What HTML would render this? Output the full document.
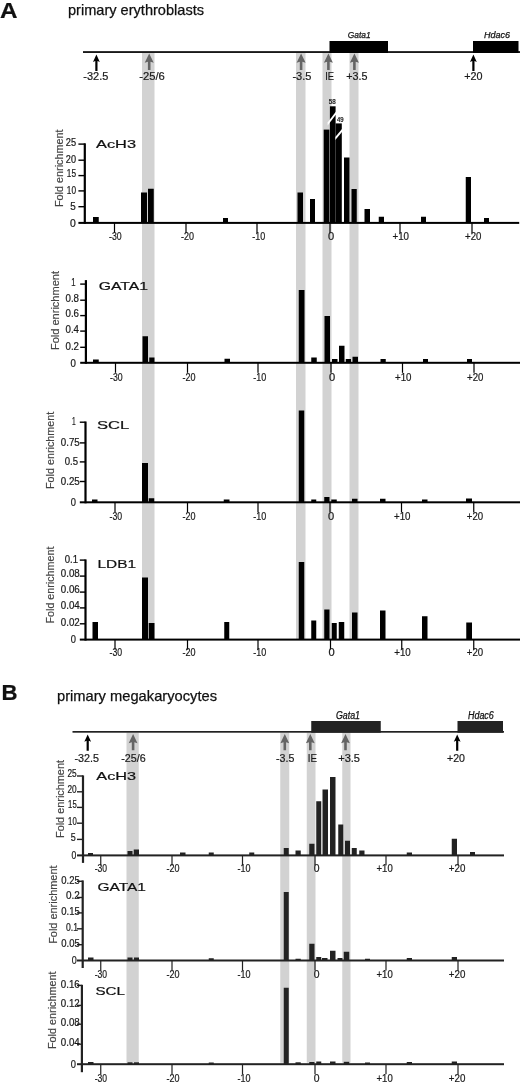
<!DOCTYPE html>
<html><head><meta charset="utf-8"><title>Figure</title>
<style>
html,body{margin:0;padding:0;background:#fff}
svg{display:block;filter:blur(0.35px)}
text{font-family:"Liberation Sans",Arial,sans-serif}
</style></head><body>
<svg width="520" height="1082" viewBox="0 0 520 1082">
<rect x="0" y="0" width="520" height="1082" fill="#fff"/>
<rect x="142.00" y="53.00" width="12.50" height="587.00" fill="#d2d2d2"/>
<rect x="296.00" y="53.00" width="9.50" height="587.00" fill="#d2d2d2"/>
<rect x="322.50" y="53.00" width="9.00" height="587.00" fill="#d2d2d2"/>
<rect x="349.50" y="53.00" width="9.00" height="587.00" fill="#d2d2d2"/>
<text x="0.00" y="18.00" font-size="22" fill="#111" textLength="17.50" lengthAdjust="spacingAndGlyphs" font-weight="bold" stroke="#111" stroke-width="0.22">A</text>
<text x="68.00" y="15.30" font-size="14.5" fill="#111" textLength="136.00" lengthAdjust="spacingAndGlyphs" stroke="#111" stroke-width="0.25">primary erythroblasts</text>
<rect x="83.00" y="51.20" width="437.00" height="1.70" fill="#000"/>
<rect x="329.50" y="41.00" width="58.50" height="12.00" fill="#000"/>
<rect x="473.00" y="41.00" width="45.50" height="12.00" fill="#000"/>
<text x="347.80" y="38.30" font-size="9.2" fill="#111" textLength="22.90" lengthAdjust="spacingAndGlyphs" font-style="italic" stroke="#111" stroke-width="0.25">Gata1</text>
<text x="484.00" y="38.30" font-size="9.2" fill="#111" textLength="26.00" lengthAdjust="spacingAndGlyphs" font-style="italic" stroke="#111" stroke-width="0.25">Hdac6</text>
<path d="M96.40 54.50 L99.80 61.90 L97.50 60.90 L97.50 71.00 L95.30 71.00 L95.30 60.90 L93.00 61.90 Z" fill="#000"/>
<path d="M473.40 54.60 L476.80 62.00 L474.50 61.00 L474.50 71.00 L472.30 71.00 L472.30 61.00 L470.00 62.00 Z" fill="#000"/>
<path d="M149.20 53.40 L153.70 62.70 L150.50 61.70 L150.50 70.00 L147.90 70.00 L147.90 61.70 L144.70 62.70 Z" fill="#646464"/>
<path d="M301.10 53.40 L305.60 62.70 L302.40 61.70 L302.40 70.00 L299.80 70.00 L299.80 61.70 L296.60 62.70 Z" fill="#646464"/>
<path d="M328.40 53.40 L332.90 62.70 L329.70 61.70 L329.70 70.00 L327.10 70.00 L327.10 61.70 L323.90 62.70 Z" fill="#646464"/>
<path d="M354.40 53.40 L358.90 62.70 L355.70 61.70 L355.70 70.00 L353.10 70.00 L353.10 61.70 L349.90 62.70 Z" fill="#646464"/>
<text x="83.30" y="79.60" font-size="11.3" fill="#1a1a1a" textLength="25.00" lengthAdjust="spacingAndGlyphs"  stroke="#1a1a1a" stroke-width="0.22">-32.5</text>
<text x="139.20" y="79.60" font-size="11.3" fill="#1a1a1a" textLength="25.60" lengthAdjust="spacingAndGlyphs"  stroke="#1a1a1a" stroke-width="0.22">-25/6</text>
<text x="292.40" y="79.60" font-size="11.3" fill="#1a1a1a" textLength="19.00" lengthAdjust="spacingAndGlyphs"  stroke="#1a1a1a" stroke-width="0.22">-3.5</text>
<text x="325.20" y="79.60" font-size="11.3" fill="#1a1a1a" textLength="8.80" lengthAdjust="spacingAndGlyphs"  stroke="#1a1a1a" stroke-width="0.22">IE</text>
<text x="346.30" y="79.60" font-size="11.3" fill="#1a1a1a" textLength="21.20" lengthAdjust="spacingAndGlyphs"  stroke="#1a1a1a" stroke-width="0.22">+3.5</text>
<text x="464.20" y="79.70" font-size="11.3" fill="#1a1a1a" textLength="18.30" lengthAdjust="spacingAndGlyphs"  stroke="#1a1a1a" stroke-width="0.22">+20</text>
<rect x="83.70" y="143.30" width="2.20" height="80.60" fill="#000"/>
<rect x="78.40" y="221.90" width="440.80" height="2.00" fill="#000"/>
<rect x="78.40" y="143.40" width="6.40" height="1.40" fill="#000"/>
<rect x="78.40" y="159.50" width="6.40" height="1.40" fill="#000"/>
<rect x="78.40" y="174.90" width="6.40" height="1.40" fill="#000"/>
<rect x="78.40" y="190.20" width="6.40" height="1.40" fill="#000"/>
<rect x="78.40" y="206.00" width="6.40" height="1.40" fill="#000"/>
<text x="65.80" y="145.70" font-size="10.6" fill="#1a1a1a" textLength="10.30" lengthAdjust="spacingAndGlyphs"  stroke="#1a1a1a" stroke-width="0.22">25</text>
<text x="65.80" y="162.60" font-size="10.6" fill="#1a1a1a" textLength="10.20" lengthAdjust="spacingAndGlyphs"  stroke="#1a1a1a" stroke-width="0.22">20</text>
<text x="66.80" y="177.40" font-size="10.6" fill="#1a1a1a" textLength="9.20" lengthAdjust="spacingAndGlyphs"  stroke="#1a1a1a" stroke-width="0.22">15</text>
<text x="66.80" y="193.80" font-size="10.6" fill="#1a1a1a" textLength="9.20" lengthAdjust="spacingAndGlyphs"  stroke="#1a1a1a" stroke-width="0.22">10</text>
<text x="70.20" y="209.60" font-size="10.6" fill="#1a1a1a" textLength="5.50" lengthAdjust="spacingAndGlyphs"  stroke="#1a1a1a" stroke-width="0.22">5</text>
<text x="69.90" y="226.60" font-size="10.6" fill="#1a1a1a" textLength="5.80" lengthAdjust="spacingAndGlyphs"  stroke="#1a1a1a" stroke-width="0.22">0</text>
<rect x="113.90" y="222.90" width="1.20" height="10.00" fill="#000"/>
<text x="109.10" y="240.00" font-size="10.8" fill="#1a1a1a" textLength="12.60" lengthAdjust="spacingAndGlyphs"  stroke="#1a1a1a" stroke-width="0.22">-30</text>
<rect x="185.40" y="222.90" width="1.20" height="10.00" fill="#000"/>
<text x="181.00" y="240.00" font-size="10.8" fill="#1a1a1a" textLength="13.00" lengthAdjust="spacingAndGlyphs"  stroke="#1a1a1a" stroke-width="0.22">-20</text>
<rect x="256.40" y="222.90" width="1.20" height="10.00" fill="#000"/>
<text x="252.20" y="240.00" font-size="10.8" fill="#1a1a1a" textLength="13.00" lengthAdjust="spacingAndGlyphs"  stroke="#1a1a1a" stroke-width="0.22">-10</text>
<rect x="329.40" y="222.90" width="1.20" height="10.00" fill="#000"/>
<text x="328.00" y="240.00" font-size="10.8" fill="#1a1a1a" textLength="6.20" lengthAdjust="spacingAndGlyphs"  stroke="#1a1a1a" stroke-width="0.22">0</text>
<rect x="399.40" y="222.90" width="1.20" height="10.00" fill="#000"/>
<text x="392.50" y="240.00" font-size="10.8" fill="#1a1a1a" textLength="16.50" lengthAdjust="spacingAndGlyphs"  stroke="#1a1a1a" stroke-width="0.22">+10</text>
<rect x="471.40" y="222.90" width="1.20" height="10.00" fill="#000"/>
<text x="465.00" y="240.00" font-size="10.8" fill="#1a1a1a" textLength="16.40" lengthAdjust="spacingAndGlyphs"  stroke="#1a1a1a" stroke-width="0.22">+20</text>
<rect x="93.00" y="217.00" width="5.75" height="5.90" fill="#000"/>
<rect x="141.00" y="192.50" width="6.00" height="30.40" fill="#000"/>
<rect x="148.00" y="188.75" width="5.75" height="34.15" fill="#000"/>
<rect x="223.00" y="218.00" width="5.00" height="4.90" fill="#000"/>
<rect x="297.50" y="192.50" width="5.50" height="30.40" fill="#000"/>
<rect x="310.00" y="199.00" width="5.00" height="23.90" fill="#000"/>
<rect x="323.70" y="129.60" width="5.70" height="93.30" fill="#000"/>
<rect x="329.90" y="106.30" width="5.70" height="116.60" fill="#000"/>
<rect x="335.60" y="123.40" width="6.20" height="99.50" fill="#000"/>
<rect x="344.00" y="157.50" width="5.50" height="65.40" fill="#000"/>
<rect x="351.50" y="189.00" width="5.25" height="33.90" fill="#000"/>
<rect x="364.50" y="209.00" width="5.50" height="13.90" fill="#000"/>
<rect x="378.75" y="216.75" width="5.25" height="6.15" fill="#000"/>
<rect x="421.00" y="216.75" width="5.00" height="6.15" fill="#000"/>
<rect x="465.75" y="177.00" width="5.25" height="45.90" fill="#000"/>
<rect x="484.00" y="218.00" width="5.00" height="4.90" fill="#000"/>
<text x="96.00" y="147.50" font-size="11.2" fill="#111" textLength="40.00" lengthAdjust="spacingAndGlyphs" stroke="#111" stroke-width="0.2">AcH3</text>
<text transform="translate(62.60,207.00) rotate(-90)" x="0" y="0" font-size="10" fill="#444" stroke="#444" stroke-width="0.15" textLength="77.50" lengthAdjust="spacingAndGlyphs">Fold enrichment</text>
<path d="M327.6 122.4 L336.0 111.5 L336.0 114.5 L327.6 125.4 Z" fill="#fff"/>
<path d="M335.3 137.0 L342.2 128.8 L342.2 131.8 L335.3 140.0 Z" fill="#fff"/>
<text x="328.75" y="103.80" font-size="6.4" fill="#111" textLength="6.95" lengthAdjust="spacingAndGlyphs"  stroke="#111" stroke-width="0.22">58</text>
<text x="337.00" y="121.70" font-size="6.4" fill="#111" textLength="6.60" lengthAdjust="spacingAndGlyphs"  stroke="#111" stroke-width="0.22">49</text>
<rect x="84.80" y="280.10" width="2.20" height="83.70" fill="#000"/>
<rect x="80.20" y="361.80" width="439.80" height="2.00" fill="#000"/>
<rect x="80.20" y="283.40" width="5.70" height="1.40" fill="#000"/>
<rect x="80.20" y="299.50" width="5.70" height="1.40" fill="#000"/>
<rect x="80.20" y="314.90" width="5.70" height="1.40" fill="#000"/>
<rect x="80.20" y="330.40" width="5.70" height="1.40" fill="#000"/>
<rect x="80.20" y="346.60" width="5.70" height="1.40" fill="#000"/>
<text x="71.30" y="286.10" font-size="10.6" fill="#1a1a1a" textLength="4.30" lengthAdjust="spacingAndGlyphs"  stroke="#1a1a1a" stroke-width="0.22">1</text>
<text x="65.50" y="302.30" font-size="10.6" fill="#1a1a1a" textLength="13.50" lengthAdjust="spacingAndGlyphs"  stroke="#1a1a1a" stroke-width="0.22">0.8</text>
<text x="65.50" y="317.30" font-size="10.6" fill="#1a1a1a" textLength="13.50" lengthAdjust="spacingAndGlyphs"  stroke="#1a1a1a" stroke-width="0.22">0.6</text>
<text x="65.50" y="332.90" font-size="10.6" fill="#1a1a1a" textLength="13.50" lengthAdjust="spacingAndGlyphs"  stroke="#1a1a1a" stroke-width="0.22">0.4</text>
<text x="65.50" y="349.60" font-size="10.6" fill="#1a1a1a" textLength="13.50" lengthAdjust="spacingAndGlyphs"  stroke="#1a1a1a" stroke-width="0.22">0.2</text>
<text x="70.50" y="366.60" font-size="10.6" fill="#1a1a1a" textLength="5.40" lengthAdjust="spacingAndGlyphs"  stroke="#1a1a1a" stroke-width="0.22">0</text>
<rect x="114.90" y="362.80" width="1.20" height="10.00" fill="#000"/>
<text x="110.10" y="380.50" font-size="10.8" fill="#1a1a1a" textLength="12.60" lengthAdjust="spacingAndGlyphs"  stroke="#1a1a1a" stroke-width="0.22">-30</text>
<rect x="186.90" y="362.80" width="1.20" height="10.00" fill="#000"/>
<text x="182.50" y="380.50" font-size="10.8" fill="#1a1a1a" textLength="13.00" lengthAdjust="spacingAndGlyphs"  stroke="#1a1a1a" stroke-width="0.22">-20</text>
<rect x="257.40" y="362.80" width="1.20" height="10.00" fill="#000"/>
<text x="253.20" y="380.50" font-size="10.8" fill="#1a1a1a" textLength="13.00" lengthAdjust="spacingAndGlyphs"  stroke="#1a1a1a" stroke-width="0.22">-10</text>
<rect x="330.40" y="362.80" width="1.20" height="10.00" fill="#000"/>
<text x="329.00" y="380.50" font-size="10.8" fill="#1a1a1a" textLength="6.20" lengthAdjust="spacingAndGlyphs"  stroke="#1a1a1a" stroke-width="0.22">0</text>
<rect x="401.90" y="362.80" width="1.20" height="10.00" fill="#000"/>
<text x="395.00" y="380.50" font-size="10.8" fill="#1a1a1a" textLength="16.50" lengthAdjust="spacingAndGlyphs"  stroke="#1a1a1a" stroke-width="0.22">+10</text>
<rect x="473.40" y="362.80" width="1.20" height="10.00" fill="#000"/>
<text x="467.00" y="380.50" font-size="10.8" fill="#1a1a1a" textLength="16.40" lengthAdjust="spacingAndGlyphs"  stroke="#1a1a1a" stroke-width="0.22">+20</text>
<rect x="93.00" y="359.50" width="5.75" height="3.30" fill="#000"/>
<rect x="142.50" y="336.25" width="5.50" height="26.55" fill="#000"/>
<rect x="149.25" y="357.50" width="5.25" height="5.30" fill="#000"/>
<rect x="224.50" y="358.75" width="5.50" height="4.05" fill="#000"/>
<rect x="298.75" y="290.00" width="5.75" height="72.80" fill="#000"/>
<rect x="311.25" y="357.50" width="5.50" height="5.30" fill="#000"/>
<rect x="324.50" y="316.00" width="5.50" height="46.80" fill="#000"/>
<rect x="332.00" y="359.00" width="5.50" height="3.80" fill="#000"/>
<rect x="339.00" y="345.75" width="5.50" height="17.05" fill="#000"/>
<rect x="345.75" y="359.00" width="5.25" height="3.80" fill="#000"/>
<rect x="352.50" y="356.75" width="5.50" height="6.05" fill="#000"/>
<rect x="380.50" y="359.00" width="5.25" height="3.80" fill="#000"/>
<rect x="423.00" y="359.00" width="5.00" height="3.80" fill="#000"/>
<rect x="467.00" y="359.00" width="5.00" height="3.80" fill="#000"/>
<text x="98.75" y="290.00" font-size="11.2" fill="#111" textLength="49.25" lengthAdjust="spacingAndGlyphs" stroke="#111" stroke-width="0.2">GATA1</text>
<text transform="translate(59.00,350.00) rotate(-90)" x="0" y="0" font-size="10" fill="#444" stroke="#444" stroke-width="0.15" textLength="79.00" lengthAdjust="spacingAndGlyphs">Fold enrichment</text>
<rect x="84.40" y="421.50" width="2.20" height="81.80" fill="#000"/>
<rect x="79.80" y="501.30" width="440.20" height="2.00" fill="#000"/>
<rect x="79.80" y="421.50" width="5.70" height="1.40" fill="#000"/>
<rect x="79.80" y="442.20" width="5.70" height="1.40" fill="#000"/>
<rect x="79.80" y="461.20" width="5.70" height="1.40" fill="#000"/>
<rect x="79.80" y="480.80" width="5.70" height="1.40" fill="#000"/>
<text x="72.10" y="425.00" font-size="10.6" fill="#1a1a1a" textLength="3.70" lengthAdjust="spacingAndGlyphs"  stroke="#1a1a1a" stroke-width="0.22">1</text>
<text x="60.80" y="446.30" font-size="10.6" fill="#1a1a1a" textLength="19.00" lengthAdjust="spacingAndGlyphs"  stroke="#1a1a1a" stroke-width="0.22">0.75</text>
<text x="64.80" y="464.80" font-size="10.6" fill="#1a1a1a" textLength="13.30" lengthAdjust="spacingAndGlyphs"  stroke="#1a1a1a" stroke-width="0.22">0.5</text>
<text x="60.80" y="485.00" font-size="10.6" fill="#1a1a1a" textLength="19.00" lengthAdjust="spacingAndGlyphs"  stroke="#1a1a1a" stroke-width="0.22">0.25</text>
<text x="70.80" y="505.70" font-size="10.6" fill="#1a1a1a" textLength="5.20" lengthAdjust="spacingAndGlyphs"  stroke="#1a1a1a" stroke-width="0.22">0</text>
<rect x="114.40" y="502.30" width="1.20" height="10.00" fill="#000"/>
<text x="109.60" y="519.50" font-size="10.8" fill="#1a1a1a" textLength="12.60" lengthAdjust="spacingAndGlyphs"  stroke="#1a1a1a" stroke-width="0.22">-30</text>
<rect x="186.90" y="502.30" width="1.20" height="10.00" fill="#000"/>
<text x="182.50" y="519.50" font-size="10.8" fill="#1a1a1a" textLength="13.00" lengthAdjust="spacingAndGlyphs"  stroke="#1a1a1a" stroke-width="0.22">-20</text>
<rect x="257.40" y="502.30" width="1.20" height="10.00" fill="#000"/>
<text x="253.20" y="519.50" font-size="10.8" fill="#1a1a1a" textLength="13.00" lengthAdjust="spacingAndGlyphs"  stroke="#1a1a1a" stroke-width="0.22">-10</text>
<rect x="329.40" y="502.30" width="1.20" height="10.00" fill="#000"/>
<text x="328.00" y="519.50" font-size="10.8" fill="#1a1a1a" textLength="6.20" lengthAdjust="spacingAndGlyphs"  stroke="#1a1a1a" stroke-width="0.22">0</text>
<rect x="400.90" y="502.30" width="1.20" height="10.00" fill="#000"/>
<text x="394.00" y="519.50" font-size="10.8" fill="#1a1a1a" textLength="16.50" lengthAdjust="spacingAndGlyphs"  stroke="#1a1a1a" stroke-width="0.22">+10</text>
<rect x="473.15" y="502.30" width="1.20" height="10.00" fill="#000"/>
<text x="466.75" y="519.50" font-size="10.8" fill="#1a1a1a" textLength="16.40" lengthAdjust="spacingAndGlyphs"  stroke="#1a1a1a" stroke-width="0.22">+20</text>
<rect x="92.00" y="499.50" width="5.50" height="2.80" fill="#000"/>
<rect x="142.00" y="463.00" width="6.00" height="39.30" fill="#000"/>
<rect x="148.75" y="498.25" width="5.50" height="4.05" fill="#000"/>
<rect x="223.75" y="499.50" width="5.75" height="2.80" fill="#000"/>
<rect x="298.75" y="410.50" width="5.50" height="91.80" fill="#000"/>
<rect x="311.25" y="499.50" width="5.00" height="2.80" fill="#000"/>
<rect x="324.25" y="497.00" width="5.25" height="5.30" fill="#000"/>
<rect x="331.25" y="499.50" width="5.50" height="2.80" fill="#000"/>
<rect x="352.00" y="498.75" width="5.50" height="3.55" fill="#000"/>
<rect x="380.00" y="498.75" width="5.50" height="3.55" fill="#000"/>
<rect x="422.00" y="499.50" width="5.50" height="2.80" fill="#000"/>
<rect x="466.00" y="498.50" width="6.00" height="3.80" fill="#000"/>
<text x="97.00" y="429.00" font-size="11.2" fill="#111" textLength="32.25" lengthAdjust="spacingAndGlyphs" stroke="#111" stroke-width="0.2">SCL</text>
<text transform="translate(54.40,489.00) rotate(-90)" x="0" y="0" font-size="10" fill="#444" stroke="#444" stroke-width="0.15" textLength="77.30" lengthAdjust="spacingAndGlyphs">Fold enrichment</text>
<rect x="84.40" y="559.40" width="2.20" height="81.20" fill="#000"/>
<rect x="79.80" y="638.60" width="440.20" height="2.00" fill="#000"/>
<rect x="79.80" y="559.40" width="5.70" height="1.40" fill="#000"/>
<rect x="79.80" y="575.40" width="5.70" height="1.40" fill="#000"/>
<rect x="79.80" y="591.40" width="5.70" height="1.40" fill="#000"/>
<rect x="79.80" y="607.20" width="5.70" height="1.40" fill="#000"/>
<rect x="79.80" y="623.10" width="5.70" height="1.40" fill="#000"/>
<text x="64.80" y="562.90" font-size="10.6" fill="#1a1a1a" textLength="13.30" lengthAdjust="spacingAndGlyphs"  stroke="#1a1a1a" stroke-width="0.22">0.1</text>
<text x="60.80" y="577.30" font-size="10.6" fill="#1a1a1a" textLength="19.00" lengthAdjust="spacingAndGlyphs"  stroke="#1a1a1a" stroke-width="0.22">0.08</text>
<text x="60.80" y="593.40" font-size="10.6" fill="#1a1a1a" textLength="19.00" lengthAdjust="spacingAndGlyphs"  stroke="#1a1a1a" stroke-width="0.22">0.06</text>
<text x="60.80" y="609.00" font-size="10.6" fill="#1a1a1a" textLength="19.00" lengthAdjust="spacingAndGlyphs"  stroke="#1a1a1a" stroke-width="0.22">0.04</text>
<text x="60.80" y="625.50" font-size="10.6" fill="#1a1a1a" textLength="19.00" lengthAdjust="spacingAndGlyphs"  stroke="#1a1a1a" stroke-width="0.22">0.02</text>
<text x="70.80" y="642.60" font-size="10.6" fill="#1a1a1a" textLength="5.20" lengthAdjust="spacingAndGlyphs"  stroke="#1a1a1a" stroke-width="0.22">0</text>
<rect x="114.40" y="639.60" width="1.20" height="10.00" fill="#000"/>
<text x="109.60" y="656.00" font-size="10.8" fill="#1a1a1a" textLength="12.60" lengthAdjust="spacingAndGlyphs"  stroke="#1a1a1a" stroke-width="0.22">-30</text>
<rect x="186.90" y="639.60" width="1.20" height="10.00" fill="#000"/>
<text x="182.50" y="656.00" font-size="10.8" fill="#1a1a1a" textLength="13.00" lengthAdjust="spacingAndGlyphs"  stroke="#1a1a1a" stroke-width="0.22">-20</text>
<rect x="257.40" y="639.60" width="1.20" height="10.00" fill="#000"/>
<text x="253.20" y="656.00" font-size="10.8" fill="#1a1a1a" textLength="13.00" lengthAdjust="spacingAndGlyphs"  stroke="#1a1a1a" stroke-width="0.22">-10</text>
<rect x="329.90" y="639.60" width="1.20" height="10.00" fill="#000"/>
<text x="328.50" y="656.00" font-size="10.8" fill="#1a1a1a" textLength="6.20" lengthAdjust="spacingAndGlyphs"  stroke="#1a1a1a" stroke-width="0.22">0</text>
<rect x="401.15" y="639.60" width="1.20" height="10.00" fill="#000"/>
<text x="394.25" y="656.00" font-size="10.8" fill="#1a1a1a" textLength="16.50" lengthAdjust="spacingAndGlyphs"  stroke="#1a1a1a" stroke-width="0.22">+10</text>
<rect x="473.15" y="639.60" width="1.20" height="10.00" fill="#000"/>
<text x="466.75" y="656.00" font-size="10.8" fill="#1a1a1a" textLength="16.40" lengthAdjust="spacingAndGlyphs"  stroke="#1a1a1a" stroke-width="0.22">+20</text>
<rect x="92.50" y="622.00" width="5.50" height="17.60" fill="#000"/>
<rect x="142.00" y="577.50" width="6.00" height="62.10" fill="#000"/>
<rect x="148.75" y="623.00" width="5.75" height="16.60" fill="#000"/>
<rect x="224.25" y="622.00" width="5.00" height="17.60" fill="#000"/>
<rect x="298.75" y="562.00" width="5.50" height="77.60" fill="#000"/>
<rect x="311.25" y="620.50" width="5.00" height="19.10" fill="#000"/>
<rect x="324.25" y="609.50" width="5.25" height="30.10" fill="#000"/>
<rect x="331.75" y="623.00" width="5.00" height="16.60" fill="#000"/>
<rect x="338.75" y="622.00" width="5.50" height="17.60" fill="#000"/>
<rect x="352.00" y="612.50" width="5.50" height="27.10" fill="#000"/>
<rect x="380.00" y="610.50" width="5.50" height="29.10" fill="#000"/>
<rect x="422.00" y="616.25" width="5.50" height="23.35" fill="#000"/>
<rect x="466.25" y="622.50" width="5.75" height="17.10" fill="#000"/>
<text x="97.50" y="568.00" font-size="11.2" fill="#111" textLength="38.50" lengthAdjust="spacingAndGlyphs" stroke="#111" stroke-width="0.2">LDB1</text>
<text transform="translate(54.40,623.50) rotate(-90)" x="0" y="0" font-size="10" fill="#444" stroke="#444" stroke-width="0.15" textLength="76.90" lengthAdjust="spacingAndGlyphs">Fold enrichment</text>
<rect x="126.50" y="732.50" width="12.25" height="330.25" fill="#d2d2d2"/>
<rect x="280.25" y="732.50" width="9.00" height="330.25" fill="#d2d2d2"/>
<rect x="306.75" y="732.50" width="8.75" height="330.25" fill="#d2d2d2"/>
<rect x="342.25" y="732.50" width="8.25" height="330.25" fill="#d2d2d2"/>
<text x="1.50" y="699.50" font-size="22" fill="#111" textLength="16.00" lengthAdjust="spacingAndGlyphs" font-weight="bold" stroke="#111" stroke-width="0.22">B</text>
<text x="57.00" y="700.60" font-size="14.5" fill="#111" textLength="160.00" lengthAdjust="spacingAndGlyphs" stroke="#111" stroke-width="0.25">primary megakaryocytes</text>
<rect x="72.50" y="731.00" width="431.50" height="1.70" fill="#222"/>
<rect x="311.25" y="721.00" width="69.50" height="11.70" fill="#222"/>
<rect x="457.50" y="721.00" width="45.50" height="11.70" fill="#222"/>
<text x="336.00" y="718.70" font-size="10" fill="#111" textLength="24.00" lengthAdjust="spacingAndGlyphs" font-style="italic" stroke="#111" stroke-width="0.25">Gata1</text>
<text x="468.00" y="718.70" font-size="10" fill="#111" textLength="25.75" lengthAdjust="spacingAndGlyphs" font-style="italic" stroke="#111" stroke-width="0.25">Hdac6</text>
<path d="M87.70 734.40 L91.10 741.70 L88.80 740.70 L88.80 750.80 L86.60 750.80 L86.60 740.70 L84.30 741.70 Z" fill="#000"/>
<path d="M457.20 734.40 L460.60 741.70 L458.30 740.70 L458.30 750.80 L456.10 750.80 L456.10 740.70 L453.80 741.70 Z" fill="#000"/>
<path d="M133.10 734.00 L137.50 743.30 L134.40 742.30 L134.40 750.20 L131.80 750.20 L131.80 742.30 L128.70 743.30 Z" fill="#646464"/>
<path d="M284.80 734.00 L289.20 743.30 L286.10 742.30 L286.10 750.20 L283.50 750.20 L283.50 742.30 L280.40 743.30 Z" fill="#646464"/>
<path d="M310.30 734.00 L314.70 743.30 L311.60 742.30 L311.60 750.20 L309.00 750.20 L309.00 742.30 L305.90 743.30 Z" fill="#646464"/>
<path d="M345.50 734.00 L349.90 743.30 L346.80 742.30 L346.80 750.20 L344.20 750.20 L344.20 742.30 L341.10 743.30 Z" fill="#646464"/>
<text x="74.50" y="761.70" font-size="11.3" fill="#1a1a1a" textLength="24.50" lengthAdjust="spacingAndGlyphs"  stroke="#1a1a1a" stroke-width="0.22">-32.5</text>
<text x="121.30" y="761.70" font-size="11.3" fill="#1a1a1a" textLength="24.40" lengthAdjust="spacingAndGlyphs"  stroke="#1a1a1a" stroke-width="0.22">-25/6</text>
<text x="276.00" y="761.70" font-size="11.3" fill="#1a1a1a" textLength="18.30" lengthAdjust="spacingAndGlyphs"  stroke="#1a1a1a" stroke-width="0.22">-3.5</text>
<text x="307.80" y="761.70" font-size="11.3" fill="#1a1a1a" textLength="9.20" lengthAdjust="spacingAndGlyphs"  stroke="#1a1a1a" stroke-width="0.22">IE</text>
<text x="338.20" y="761.70" font-size="11.3" fill="#1a1a1a" textLength="21.80" lengthAdjust="spacingAndGlyphs"  stroke="#1a1a1a" stroke-width="0.22">+3.5</text>
<text x="447.00" y="761.70" font-size="11.3" fill="#1a1a1a" textLength="18.00" lengthAdjust="spacingAndGlyphs"  stroke="#1a1a1a" stroke-width="0.22">+20</text>
<rect x="81.90" y="775.40" width="2.20" height="87.50" fill="#222"/>
<rect x="77.00" y="854.40" width="427.00" height="2.00" fill="#222"/>
<rect x="77.00" y="775.30" width="6.00" height="1.40" fill="#222"/>
<rect x="77.00" y="791.10" width="6.00" height="1.40" fill="#222"/>
<rect x="77.00" y="806.70" width="6.00" height="1.40" fill="#222"/>
<rect x="77.00" y="822.50" width="6.00" height="1.40" fill="#222"/>
<rect x="77.00" y="838.70" width="6.00" height="1.40" fill="#222"/>
<text x="67.50" y="777.20" font-size="10.6" fill="#1a1a1a" textLength="9.20" lengthAdjust="spacingAndGlyphs"  stroke="#1a1a1a" stroke-width="0.22">25</text>
<text x="67.50" y="792.80" font-size="10.6" fill="#1a1a1a" textLength="9.20" lengthAdjust="spacingAndGlyphs"  stroke="#1a1a1a" stroke-width="0.22">20</text>
<text x="68.10" y="808.40" font-size="10.6" fill="#1a1a1a" textLength="8.60" lengthAdjust="spacingAndGlyphs"  stroke="#1a1a1a" stroke-width="0.22">15</text>
<text x="68.10" y="825.00" font-size="10.6" fill="#1a1a1a" textLength="8.60" lengthAdjust="spacingAndGlyphs"  stroke="#1a1a1a" stroke-width="0.22">10</text>
<text x="70.80" y="840.50" font-size="10.6" fill="#1a1a1a" textLength="5.00" lengthAdjust="spacingAndGlyphs"  stroke="#1a1a1a" stroke-width="0.22">5</text>
<text x="71.60" y="858.50" font-size="10.6" fill="#1a1a1a" textLength="4.80" lengthAdjust="spacingAndGlyphs"  stroke="#1a1a1a" stroke-width="0.22">0</text>
<rect x="100.15" y="855.40" width="1.20" height="10.00" fill="#222"/>
<text x="94.65" y="872.20" font-size="10.8" fill="#1a1a1a" textLength="12.40" lengthAdjust="spacingAndGlyphs"  stroke="#1a1a1a" stroke-width="0.22">-30</text>
<rect x="171.40" y="855.40" width="1.20" height="10.00" fill="#222"/>
<text x="166.50" y="872.20" font-size="10.8" fill="#1a1a1a" textLength="13.00" lengthAdjust="spacingAndGlyphs"  stroke="#1a1a1a" stroke-width="0.22">-20</text>
<rect x="241.90" y="855.40" width="1.20" height="10.00" fill="#222"/>
<text x="237.50" y="872.20" font-size="10.8" fill="#1a1a1a" textLength="13.00" lengthAdjust="spacingAndGlyphs"  stroke="#1a1a1a" stroke-width="0.22">-10</text>
<rect x="314.40" y="855.40" width="1.20" height="10.00" fill="#222"/>
<text x="313.80" y="872.20" font-size="10.8" fill="#1a1a1a" textLength="5.80" lengthAdjust="spacingAndGlyphs"  stroke="#1a1a1a" stroke-width="0.22">0</text>
<rect x="385.40" y="855.40" width="1.20" height="10.00" fill="#222"/>
<text x="376.50" y="872.20" font-size="10.8" fill="#1a1a1a" textLength="16.20" lengthAdjust="spacingAndGlyphs"  stroke="#1a1a1a" stroke-width="0.22">+10</text>
<rect x="457.40" y="855.40" width="1.20" height="10.00" fill="#222"/>
<text x="448.80" y="872.20" font-size="10.8" fill="#1a1a1a" textLength="16.60" lengthAdjust="spacingAndGlyphs"  stroke="#1a1a1a" stroke-width="0.22">+20</text>
<rect x="88.00" y="853.00" width="5.00" height="2.40" fill="#222"/>
<rect x="127.50" y="851.00" width="5.00" height="4.40" fill="#222"/>
<rect x="133.75" y="849.50" width="5.25" height="5.90" fill="#222"/>
<rect x="180.00" y="852.50" width="5.50" height="2.90" fill="#222"/>
<rect x="208.75" y="852.50" width="5.00" height="2.90" fill="#222"/>
<rect x="249.25" y="852.50" width="5.00" height="2.90" fill="#222"/>
<rect x="283.75" y="848.00" width="5.00" height="7.40" fill="#222"/>
<rect x="295.50" y="850.50" width="5.25" height="4.90" fill="#222"/>
<rect x="309.25" y="843.75" width="5.25" height="11.65" fill="#222"/>
<rect x="316.25" y="801.25" width="5.00" height="54.15" fill="#222"/>
<rect x="322.50" y="789.50" width="5.50" height="65.90" fill="#222"/>
<rect x="330.00" y="777.00" width="5.50" height="78.40" fill="#222"/>
<rect x="338.25" y="824.50" width="5.00" height="30.90" fill="#222"/>
<rect x="345.00" y="840.75" width="5.00" height="14.65" fill="#222"/>
<rect x="351.75" y="848.00" width="5.00" height="7.40" fill="#222"/>
<rect x="359.25" y="850.50" width="5.25" height="4.90" fill="#222"/>
<rect x="406.75" y="852.50" width="5.25" height="2.90" fill="#222"/>
<rect x="451.75" y="838.75" width="5.25" height="16.65" fill="#222"/>
<rect x="470.00" y="852.00" width="5.00" height="3.40" fill="#222"/>
<text x="96.30" y="779.80" font-size="11.2" fill="#111" textLength="39.80" lengthAdjust="spacingAndGlyphs" stroke="#111" stroke-width="0.2">AcH3</text>
<text transform="translate(64.00,838.00) rotate(-90)" x="0" y="0" font-size="10" fill="#444" stroke="#444" stroke-width="0.15" textLength="78.00" lengthAdjust="spacingAndGlyphs">Fold enrichment</text>
<rect x="81.60" y="880.40" width="2.20" height="87.60" fill="#222"/>
<rect x="77.00" y="959.50" width="427.00" height="2.00" fill="#222"/>
<rect x="77.00" y="880.60" width="5.70" height="1.40" fill="#222"/>
<rect x="77.00" y="896.80" width="5.70" height="1.40" fill="#222"/>
<rect x="77.00" y="912.20" width="5.70" height="1.40" fill="#222"/>
<rect x="77.00" y="928.10" width="5.70" height="1.40" fill="#222"/>
<rect x="77.00" y="944.00" width="5.70" height="1.40" fill="#222"/>
<text x="61.30" y="883.60" font-size="10.6" fill="#1a1a1a" textLength="18.50" lengthAdjust="spacingAndGlyphs"  stroke="#1a1a1a" stroke-width="0.22">0.25</text>
<text x="66.00" y="899.40" font-size="10.6" fill="#1a1a1a" textLength="13.80" lengthAdjust="spacingAndGlyphs"  stroke="#1a1a1a" stroke-width="0.22">0.2</text>
<text x="61.30" y="914.80" font-size="10.6" fill="#1a1a1a" textLength="18.50" lengthAdjust="spacingAndGlyphs"  stroke="#1a1a1a" stroke-width="0.22">0.15</text>
<text x="66.00" y="931.10" font-size="10.6" fill="#1a1a1a" textLength="12.00" lengthAdjust="spacingAndGlyphs"  stroke="#1a1a1a" stroke-width="0.22">0.1</text>
<text x="61.30" y="946.70" font-size="10.6" fill="#1a1a1a" textLength="18.50" lengthAdjust="spacingAndGlyphs"  stroke="#1a1a1a" stroke-width="0.22">0.05</text>
<text x="71.70" y="963.80" font-size="10.6" fill="#1a1a1a" textLength="5.00" lengthAdjust="spacingAndGlyphs"  stroke="#1a1a1a" stroke-width="0.22">0</text>
<rect x="100.15" y="960.50" width="1.20" height="10.00" fill="#222"/>
<text x="94.65" y="977.50" font-size="10.8" fill="#1a1a1a" textLength="12.40" lengthAdjust="spacingAndGlyphs"  stroke="#1a1a1a" stroke-width="0.22">-30</text>
<rect x="171.40" y="960.50" width="1.20" height="10.00" fill="#222"/>
<text x="166.50" y="977.50" font-size="10.8" fill="#1a1a1a" textLength="13.00" lengthAdjust="spacingAndGlyphs"  stroke="#1a1a1a" stroke-width="0.22">-20</text>
<rect x="241.90" y="960.50" width="1.20" height="10.00" fill="#222"/>
<text x="237.50" y="977.50" font-size="10.8" fill="#1a1a1a" textLength="13.00" lengthAdjust="spacingAndGlyphs"  stroke="#1a1a1a" stroke-width="0.22">-10</text>
<rect x="314.40" y="960.50" width="1.20" height="10.00" fill="#222"/>
<text x="313.80" y="977.50" font-size="10.8" fill="#1a1a1a" textLength="5.80" lengthAdjust="spacingAndGlyphs"  stroke="#1a1a1a" stroke-width="0.22">0</text>
<rect x="385.40" y="960.50" width="1.20" height="10.00" fill="#222"/>
<text x="376.50" y="977.50" font-size="10.8" fill="#1a1a1a" textLength="16.20" lengthAdjust="spacingAndGlyphs"  stroke="#1a1a1a" stroke-width="0.22">+10</text>
<rect x="457.40" y="960.50" width="1.20" height="10.00" fill="#222"/>
<text x="448.80" y="977.50" font-size="10.8" fill="#1a1a1a" textLength="16.60" lengthAdjust="spacingAndGlyphs"  stroke="#1a1a1a" stroke-width="0.22">+20</text>
<rect x="88.00" y="957.50" width="5.50" height="3.00" fill="#222"/>
<rect x="127.50" y="957.50" width="5.00" height="3.00" fill="#222"/>
<rect x="134.00" y="957.50" width="5.00" height="3.00" fill="#222"/>
<rect x="208.75" y="958.25" width="5.00" height="2.25" fill="#222"/>
<rect x="283.75" y="892.00" width="5.00" height="68.50" fill="#222"/>
<rect x="295.50" y="958.75" width="5.25" height="1.75" fill="#222"/>
<rect x="309.25" y="943.75" width="5.25" height="16.75" fill="#222"/>
<rect x="316.25" y="957.00" width="5.00" height="3.50" fill="#222"/>
<rect x="322.00" y="958.00" width="5.50" height="2.50" fill="#222"/>
<rect x="330.00" y="950.75" width="5.50" height="9.75" fill="#222"/>
<rect x="337.50" y="958.00" width="5.00" height="2.50" fill="#222"/>
<rect x="343.75" y="951.75" width="5.50" height="8.75" fill="#222"/>
<rect x="365.00" y="958.75" width="5.00" height="1.75" fill="#222"/>
<rect x="406.75" y="958.00" width="5.25" height="2.50" fill="#222"/>
<rect x="451.75" y="957.00" width="5.25" height="3.50" fill="#222"/>
<text x="97.50" y="890.75" font-size="11.2" fill="#111" textLength="48.50" lengthAdjust="spacingAndGlyphs" stroke="#111" stroke-width="0.2">GATA1</text>
<text transform="translate(57.30,943.80) rotate(-90)" x="0" y="0" font-size="10" fill="#444" stroke="#444" stroke-width="0.15" textLength="78.30" lengthAdjust="spacingAndGlyphs">Fold enrichment</text>
<rect x="80.80" y="984.80" width="2.20" height="87.40" fill="#222"/>
<rect x="77.00" y="1063.20" width="427.00" height="2.00" fill="#222"/>
<rect x="77.00" y="984.70" width="4.90" height="1.40" fill="#222"/>
<rect x="77.00" y="1004.70" width="4.90" height="1.40" fill="#222"/>
<rect x="77.00" y="1023.50" width="4.90" height="1.40" fill="#222"/>
<rect x="77.00" y="1043.50" width="4.90" height="1.40" fill="#222"/>
<text x="60.80" y="987.50" font-size="10.6" fill="#1a1a1a" textLength="19.00" lengthAdjust="spacingAndGlyphs"  stroke="#1a1a1a" stroke-width="0.22">0.16</text>
<text x="60.80" y="1006.70" font-size="10.6" fill="#1a1a1a" textLength="19.00" lengthAdjust="spacingAndGlyphs"  stroke="#1a1a1a" stroke-width="0.22">0.12</text>
<text x="60.80" y="1026.00" font-size="10.6" fill="#1a1a1a" textLength="19.00" lengthAdjust="spacingAndGlyphs"  stroke="#1a1a1a" stroke-width="0.22">0.08</text>
<text x="60.80" y="1045.90" font-size="10.6" fill="#1a1a1a" textLength="19.00" lengthAdjust="spacingAndGlyphs"  stroke="#1a1a1a" stroke-width="0.22">0.04</text>
<text x="70.80" y="1067.90" font-size="10.6" fill="#1a1a1a" textLength="5.20" lengthAdjust="spacingAndGlyphs"  stroke="#1a1a1a" stroke-width="0.22">0</text>
<rect x="100.15" y="1064.20" width="1.20" height="10.00" fill="#222"/>
<text x="94.65" y="1082.00" font-size="10.8" fill="#1a1a1a" textLength="12.40" lengthAdjust="spacingAndGlyphs"  stroke="#1a1a1a" stroke-width="0.22">-30</text>
<rect x="171.40" y="1064.20" width="1.20" height="10.00" fill="#222"/>
<text x="166.50" y="1082.00" font-size="10.8" fill="#1a1a1a" textLength="13.00" lengthAdjust="spacingAndGlyphs"  stroke="#1a1a1a" stroke-width="0.22">-20</text>
<rect x="241.90" y="1064.20" width="1.20" height="10.00" fill="#222"/>
<text x="237.50" y="1082.00" font-size="10.8" fill="#1a1a1a" textLength="13.00" lengthAdjust="spacingAndGlyphs"  stroke="#1a1a1a" stroke-width="0.22">-10</text>
<rect x="314.40" y="1064.20" width="1.20" height="10.00" fill="#222"/>
<text x="313.80" y="1082.00" font-size="10.8" fill="#1a1a1a" textLength="5.80" lengthAdjust="spacingAndGlyphs"  stroke="#1a1a1a" stroke-width="0.22">0</text>
<rect x="385.40" y="1064.20" width="1.20" height="10.00" fill="#222"/>
<text x="376.50" y="1082.00" font-size="10.8" fill="#1a1a1a" textLength="16.20" lengthAdjust="spacingAndGlyphs"  stroke="#1a1a1a" stroke-width="0.22">+10</text>
<rect x="457.40" y="1064.20" width="1.20" height="10.00" fill="#222"/>
<text x="448.80" y="1082.00" font-size="10.8" fill="#1a1a1a" textLength="16.60" lengthAdjust="spacingAndGlyphs"  stroke="#1a1a1a" stroke-width="0.22">+20</text>
<rect x="88.00" y="1062.00" width="5.50" height="2.20" fill="#222"/>
<rect x="127.50" y="1062.30" width="5.00" height="1.90" fill="#222"/>
<rect x="134.00" y="1062.30" width="5.00" height="1.90" fill="#222"/>
<rect x="208.75" y="1062.50" width="5.00" height="1.70" fill="#222"/>
<rect x="283.75" y="987.75" width="5.00" height="76.45" fill="#222"/>
<rect x="295.50" y="1062.30" width="5.25" height="1.90" fill="#222"/>
<rect x="309.25" y="1062.00" width="5.25" height="2.20" fill="#222"/>
<rect x="316.25" y="1061.50" width="5.00" height="2.70" fill="#222"/>
<rect x="330.00" y="1061.50" width="5.50" height="2.70" fill="#222"/>
<rect x="343.75" y="1061.80" width="5.50" height="2.40" fill="#222"/>
<rect x="365.00" y="1062.50" width="5.00" height="1.70" fill="#222"/>
<rect x="406.75" y="1062.00" width="5.25" height="2.20" fill="#222"/>
<rect x="451.75" y="1061.50" width="5.25" height="2.70" fill="#222"/>
<text x="95.50" y="995.00" font-size="11.2" fill="#111" textLength="29.50" lengthAdjust="spacingAndGlyphs" stroke="#111" stroke-width="0.2">SCL</text>
<text transform="translate(55.60,1049.00) rotate(-90)" x="0" y="0" font-size="10" fill="#444" stroke="#444" stroke-width="0.15" textLength="77.50" lengthAdjust="spacingAndGlyphs">Fold enrichment</text>
</svg>
</body></html>
